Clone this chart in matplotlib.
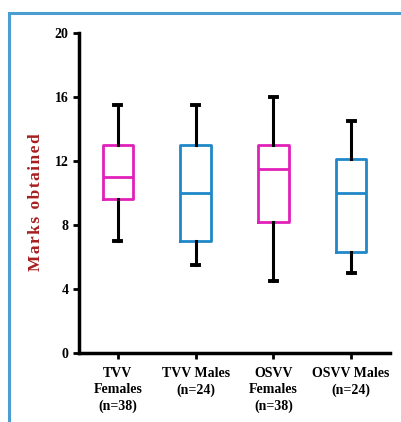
import matplotlib
matplotlib.use("Agg")
import matplotlib.pyplot as plt
from matplotlib.patches import Rectangle

# values
groups = ["TVV\nFemales\n(n=38)", "TVV Males\n(n=24)", "OSVV\nFemales\n(n=38)", "OSVV Males\n(n=24)"]
whisker_low = [7.0, 5.5, 4.5, 5.0]
q1 = [9.6, 7.0, 8.2, 6.3]
median = [11.0, 10.0, 11.5, 10.0]
q3 = [13.0, 13.0, 13.0, 12.1]
whisker_high = [15.5, 15.5, 16.0, 14.5]
box_colors = ["#E020B8", "#2088C8", "#E020B8", "#2088C8"]
ylabel = "Marks obtained"

plt.rcParams["font.family"] = ["Liberation Serif", "DejaVu Serif"]
plt.rcParams["font.weight"] = "bold"

fig = plt.figure(figsize=(4.02, 4.22), dpi=100)
ax = fig.add_axes([79 / 402, 1 - 353 / 422, 311 / 402, 320 / 422])

# blue frame around the panel
fig.add_artist(Rectangle((9 / 402, -0.05), 1.2, 1 - 13 / 422 + 0.05, transform=fig.transFigure,
                         fill=False, edgecolor="#4A9ED0", linewidth=2.2))

stats = []
for i in range(len(groups)):
    stats.append(dict(whislo=whisker_low[i], q1=q1[i], med=median[i], q3=q3[i],
                      whishi=whisker_high[i], fliers=[]))

bp = ax.bxp(stats, positions=[1, 2, 3, 4], widths=0.39, showfliers=False,
            capwidths=0.09,
            whiskerprops=dict(color="black", linewidth=2.2),
            capprops=dict(color="black", linewidth=2.8))
for i, c in enumerate(box_colors):
    bp["boxes"][i].set_color(c)
    bp["boxes"][i].set_linewidth(2)
    bp["medians"][i].set_color(c)
    bp["medians"][i].set_linewidth(2)

ax.set_xlim(0.5, 4.5)
ax.set_ylim(0, 20)
ax.set_yticks([0, 4, 8, 12, 16, 20])
ax.set_xticks([1, 2, 3, 4])
ax.set_xticklabels(groups, fontsize=10, fontweight="bold", linespacing=1.35)
for t in ax.get_yticklabels():
    t.set_fontsize(10)
    t.set_fontweight("bold")
ax.tick_params(axis="both", width=2, length=4, color="black")
ax.tick_params(axis="x", pad=6)
ax.spines["top"].set_visible(False)
ax.spines["right"].set_visible(False)
ax.spines["left"].set_linewidth(2.5)
ax.spines["bottom"].set_linewidth(2.5)

# letter-spaced axis title
fig.text(36 / 402, 1 - 202 / 422, "\u200a".join(ylabel),
         rotation=90, ha="center", va="center", color="#A81E1E", fontsize=12.5, fontweight="bold")

fig.savefig("out.png", dpi=100)
